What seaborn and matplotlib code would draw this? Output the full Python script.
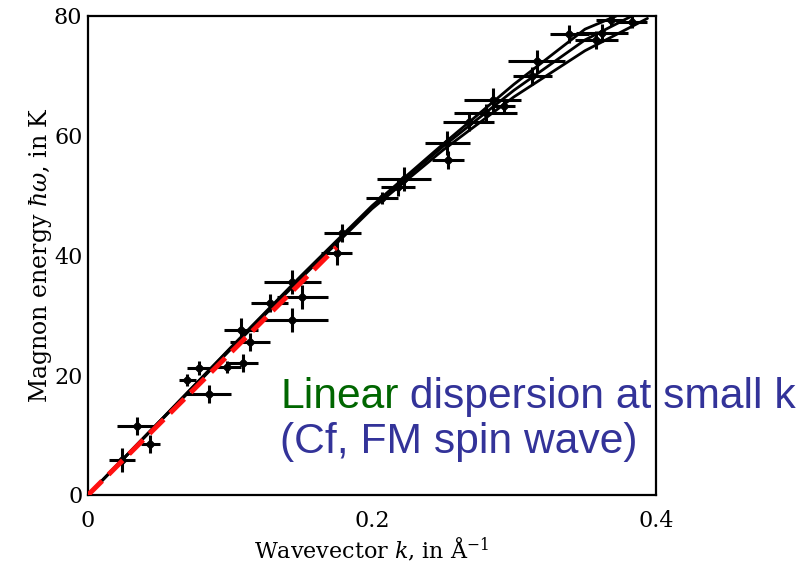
import matplotlib
matplotlib.use("Agg")
import matplotlib.pyplot as plt
import seaborn as sns
import pandas as pd

# measured magnon points: wavevector k (1/A), energy (K), error bars
k_pts = [0.024, 0.0345, 0.044, 0.070, 0.078, 0.085, 0.098, 0.109, 0.108, 0.114,
         0.128, 0.144, 0.151, 0.144, 0.175, 0.179, 0.207, 0.2225, 0.218, 0.253,
         0.2535, 0.268, 0.285, 0.280, 0.293, 0.316, 0.313, 0.339, 0.362, 0.358,
         0.368, 0.383]
E_pts = [5.8, 11.5, 8.5, 19.2, 21.2, 16.9, 21.4, 22.1, 27.5, 25.6,
         32.0, 35.5, 33.1, 29.2, 40.4, 43.7, 49.6, 52.8, 51.5, 58.8,
         55.9, 62.3, 66.0, 63.8, 65.0, 72.4, 70.0, 77.0, 77.1, 76.0,
         79.3, 79.0]
k_err = [0.009, 0.014, 0.007, 0.006, 0.008, 0.016, 0.010, 0.011, 0.012, 0.014,
         0.013, 0.020, 0.018, 0.025, 0.011, 0.013, 0.011, 0.019, 0.012, 0.016,
         0.011, 0.018, 0.020, 0.022, 0.008, 0.020, 0.014, 0.014, 0.018, 0.015,
         0.010, 0.011]
E_err = [2.0, 1.5, 1.5, 1.0, 1.2, 1.5, 1.0, 1.5, 2.0, 1.5,
         1.5, 2.0, 2.0, 2.0, 2.0, 1.5, 1.0, 2.0, 1.5, 2.0,
         1.5, 1.5, 2.0, 1.5, 1.0, 2.0, 1.5, 1.5, 1.5, 1.5,
         1.0, 1.0]

# theory curves
curve_k = [0, 0.05, 0.10, 0.15, 0.20, 0.25, 0.30, 0.35]
curve_lower = [0, 12.1, 24.2, 36.2, 47.8, 57.6, 66.5, 74.2]
curve_middle = [0, 12.2, 24.4, 36.4, 48.1, 58.2, 67.6, 76.0]
curve_upper = [0, 12.2, 24.5, 36.6, 48.3, 58.6, 68.6, 77.8]
curve_end_k = [0.394, 0.383, 0.372]
curve_end_E = [79.6, 80.0, 80.0]

# red dashed linear fit at small k
red_k = [0, 0.175]
red_E = [0, 41.4]

rows = []
for name, vals, ek, eE in zip(["lower", "middle", "upper"],
                              [curve_lower, curve_middle, curve_upper],
                              curve_end_k, curve_end_E):
    for k, e in zip(curve_k + [ek], vals + [eE]):
        rows.append({"k": k, "E": e, "branch": name})
curves = pd.DataFrame(rows)
pts = pd.DataFrame({"k": k_pts, "E": E_pts})
red = pd.DataFrame({"k": red_k, "E": red_E})

sns.set_style("white")
plt.rcParams["font.family"] = ["DejaVu Serif"]
plt.rcParams["mathtext.fontset"] = "dejavuserif"
plt.rcParams["text.color"] = "black"
plt.rcParams["axes.labelcolor"] = "black"

fig = plt.figure(figsize=(8.06, 5.67), dpi=100)
ax = fig.add_axes([0.1092, 0.1270, 0.7047, 0.8448])

sns.lineplot(data=curves, x="k", y="E", hue="branch", units="branch",
             estimator=None, sort=False, palette=["black"] * 3,
             linewidth=2.0, legend=False, ax=ax, zorder=2)
ax.errorbar(k_pts, E_pts, xerr=k_err, yerr=E_err, fmt="none",
            ecolor="black", elinewidth=2.2, capsize=0, zorder=3)
sns.scatterplot(data=pts, x="k", y="E", marker="D", s=24, color="black",
                edgecolor="black", linewidth=0.5, ax=ax, zorder=4)
sns.lineplot(data=red, x="k", y="E", color="#ff1010", linewidth=3.6,
             linestyle=(0, (4, 1.8)), ax=ax, zorder=5)

ax.set_xlim(0, 0.4)
ax.set_ylim(0, 80)
ax.set_xticks([0, 0.2, 0.4])
ax.set_xticklabels(["0", "0.2", "0.4"])
ax.set_yticks([0, 20, 40, 60, 80])
ax.set_yticklabels(["0", "20", "40", "60", "80"])
ax.tick_params(direction="in", length=11, width=1.5, labelsize=16,
               colors="black")
ax.tick_params(axis="x", pad=11)
ax.tick_params(axis="y", pad=4)
for s in ax.spines.values():
    s.set_visible(True)
    s.set_linewidth(1.6)
    s.set_color("black")

ax.set_xlabel(r"Wavevector $k$, in Å$^{-1}$", fontsize=16, labelpad=2)
ax.set_ylabel(r"Magnon energy $\hbar\omega$, in K", fontsize=17, labelpad=0)

t1 = fig.text(280 / 806, 1 - 408 / 567, "Linear", color="#006600",
              fontsize=30.7, family="Liberation Sans", va="baseline")
ax.annotate(" dispersion at small k", xy=(1, 0), xycoords=t1,
            va="bottom", ha="left", color="#333399", fontsize=30.7,
            family="Liberation Sans")
fig.text(280 / 806, 1 - 453 / 567, "(Cf, FM spin wave)", color="#333399",
         fontsize=30.7, family="Liberation Sans", va="baseline")

fig.savefig("out.png", dpi=100)
